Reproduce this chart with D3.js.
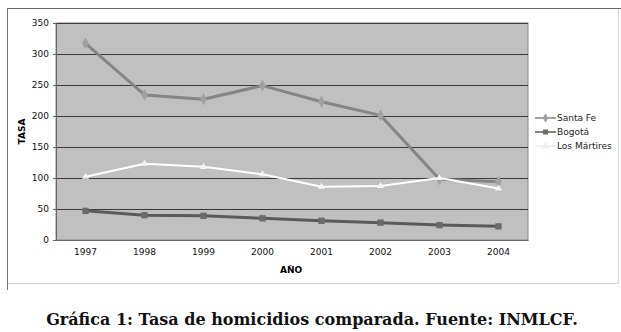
<!DOCTYPE html>
<html>
<head>
<meta charset="utf-8">
<script src="https://cdn.jsdelivr.net/npm/d3@7"></script>
<style>
  body { margin: 0; background: #fff; }
  text { font-family: "DejaVu Sans", Verdana, sans-serif; }
</style>
</head>
<body>
<div id="chart-area"></div>
<script>
// chart data
var years = ["1997", "1998", "1999", "2000", "2001", "2002", "2003", "2004"];
var santaFe = [317, 234, 227, 249, 223, 201, 98, 94];
var bogota = [47, 40, 39, 35, 31, 28, 24, 22];
var losMartires = [102, 123, 118, 106, 86, 87, 100, 83];
var yTicks = [0, 50, 100, 150, 200, 250, 300, 350];
var seriesNames = ["Santa Fe", "Bogotá", "Los Mártires"];

var W = 621, H = 332;
var plot = {left: 56, top: 23, right: 528, bottom: 240};

var svg = d3.select("#chart-area").append("svg")
    .attr("width", W)
    .attr("height", H);

// outer frame
svg.append("rect")
    .attr("x", 7.5).attr("y", 8.5)
    .attr("width", 611).attr("height", 275)
    .attr("fill", "#fff")
    .attr("stroke", "#d4d4d4");
svg.append("line")
    .attr("x1", 7).attr("x2", W).attr("y1", 8.5).attr("y2", 8.5)
    .attr("stroke", "#666").attr("stroke-width", 1.2);
svg.append("line")
    .attr("x1", 7.5).attr("x2", 7.5).attr("y1", 8).attr("y2", 290)
    .attr("stroke", "#777");

var x = d3.scaleBand().domain(years).range([plot.left, plot.right]);
var y = d3.scaleLinear().domain([0, 350]).range([plot.bottom, plot.top]);

// plot area
svg.append("rect")
    .attr("x", plot.left).attr("y", plot.top)
    .attr("width", plot.right - plot.left).attr("height", plot.bottom - plot.top)
    .attr("fill", "#c0c0c0")
    .attr("stroke", "#888");

// gridlines
svg.append("g").selectAll("line")
    .data(yTicks.filter(function(d){ return d > 0; }))
    .enter().append("line")
    .attr("x1", plot.left).attr("x2", plot.right)
    .attr("y1", function(d){ return Math.round(y(d)) + 0.5; })
    .attr("y2", function(d){ return Math.round(y(d)) + 0.5; })
    .attr("stroke", "#3a3a3a").attr("stroke-width", 1.2);

// axes
var leftAxis = d3.axisLeft(y).tickValues(yTicks).tickSize(3).tickPadding(4);
var gy = svg.append("g")
    .attr("transform", "translate(" + plot.left + ",0)")
    .call(leftAxis);
gy.select(".domain").attr("stroke", "#666");
gy.selectAll("line").attr("stroke", "#666");
gy.selectAll("text").attr("font-size", "9px").attr("fill", "#111")
    .style("font-family", "Verdana, 'DejaVu Sans', sans-serif");

var bottomAxis = d3.axisBottom(x).tickSize(0).tickPadding(9);
var gx = svg.append("g")
    .attr("transform", "translate(0," + plot.bottom + ")")
    .call(bottomAxis);
gx.select(".domain").attr("stroke", "#666");
gx.selectAll("text").attr("font-size", "9px").attr("fill", "#111")
    .style("font-family", "Verdana, 'DejaVu Sans', sans-serif");

// axis titles
svg.append("text")
    .attr("transform", "translate(25," + ((plot.top + plot.bottom) / 2) + ") rotate(-90)")
    .attr("text-anchor", "middle")
    .attr("font-size", "9px").attr("font-weight", "bold")
    .text("TASA");
svg.append("text")
    .attr("x", 291).attr("y", 273)
    .attr("text-anchor", "middle")
    .attr("font-size", "9px").attr("font-weight", "bold")
    .text("AÑO");

// lines
var line = d3.line()
    .x(function(d, i){ return x(years[i]) + x.bandwidth() / 2; })
    .y(function(d){ return y(d); });

var series = [
  {name: seriesNames[0], values: santaFe, color: "#858585", width: 3, marker: "diamond", mcolor: "#a0a0a0"},
  {name: seriesNames[1], values: bogota, color: "#5a5a5a", width: 3, marker: "square", mcolor: "#6a6a6a"},
  {name: seriesNames[2], values: losMartires, color: "#ffffff", width: 2, marker: "triangle", mcolor: "#f4f4f4"}
];

var symbolType = {diamond: d3.symbolDiamond, square: d3.symbolSquare, triangle: d3.symbolTriangle};

series.forEach(function(s){
  svg.append("path")
      .datum(s.values)
      .attr("fill", "none")
      .attr("stroke", s.color)
      .attr("stroke-width", s.width)
      .attr("stroke-linejoin", "round")
      .attr("d", line);
  svg.append("g").selectAll("path")
      .data(s.values)
      .enter().append("path")
      .attr("transform", function(d, i){
        return "translate(" + (x(years[i]) + x.bandwidth() / 2) + "," + y(d) + ")";
      })
      .attr("d", d3.symbol().type(symbolType[s.marker]).size(s.marker == "triangle" ? 22 : 40))
      .attr("fill", s.mcolor);
});

// legend
var legend = svg.append("g").attr("transform", "translate(535,118)");
series.forEach(function(s, i){
  var row = legend.append("g").attr("transform", "translate(0," + (i * 14) + ")");
  row.append("line")
      .attr("x1", 0).attr("x2", 21)
      .attr("stroke", s.name == "Los Mártires" ? "#eeeeee" : s.color)
      .attr("stroke-width", 1.5);
  row.append("path")
      .attr("transform", "translate(10.5,0)")
      .attr("d", d3.symbol().type(symbolType[s.marker]).size(25))
      .attr("fill", s.name == "Los Mártires" ? "#eeeeee" : s.mcolor);
  row.append("text")
      .attr("x", 22).attr("y", 3)
      .attr("font-size", "9px").attr("fill", "#222")
      .style("font-family", "Verdana, 'DejaVu Sans', sans-serif")
      .text(s.name);
});

// caption
svg.append("text")
    .attr("x", 312).attr("y", 325)
    .attr("text-anchor", "middle")
    .attr("font-size", "16px").attr("font-weight", "bold")
    .style("font-family", "'DejaVu Serif', serif")
    .attr("fill", "#111")
    .text("Gráfica 1: Tasa de homicidios comparada. Fuente: INMLCF.");
</script>
</body>
</html>
